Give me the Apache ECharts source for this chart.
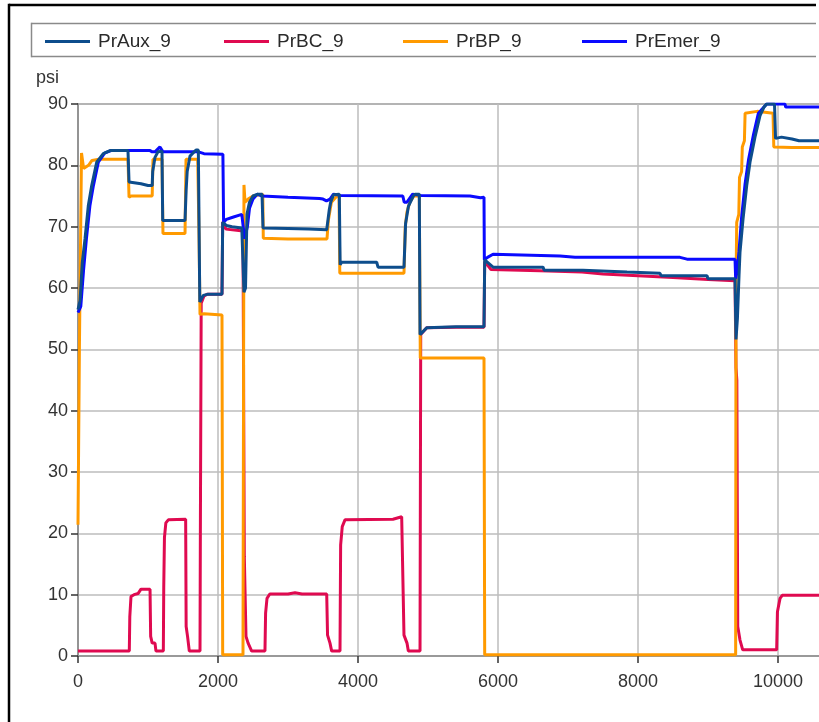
<!DOCTYPE html>
<html>
<head>
<meta charset="utf-8">
<script src="https://cdn.jsdelivr.net/npm/echarts@6/dist/echarts.min.js"></script>
<style>
html,body{margin:0;padding:0;background:#fff;overflow:hidden;}
#chart{width:819px;height:722px;}
</style>
</head>
<body>
<div id="chart"></div>
<script>
// ---- data (time, psi) ----
const seriesNames = ['PrAux_9', 'PrBC_9', 'PrBP_9', 'PrEmer_9'];

const prAux = [
  [0,56.5],[30,58],[60,64],[100,68],[147,73.4],[196,76.7],[267,80.5],[361,81.9],[457,82.4],[714,82.4],
  [729,77.3],[757,77],[900,77],[1000,76.7],[1060,76.7],[1067,79],[1100,81.3],[1143,82.2],[1171,82.5],[1200,82.3],
  [1210,71],[1529,71],[1545,76],[1560,79],[1600,81.5],[1686,82.5],[1719,82.5],
  [1740,57.7],[1790,58.8],[1860,59],[2057,59],[2067,70.7],[2120,70.2],[2200,70],[2340,69.8],[2357,69.6],
  [2371,59.3],[2393,60],[2414,72],[2450,74],[2500,75],[2570,75.3],[2629,75.3],[2643,69.8],[3000,69.7],[3300,69.6],[3553,69.5],
  [3570,71],[3590,72.8],[3610,74],[3650,75.2],[3733,75.3],[3745,63.8],[3767,64.2],[4267,64.2],[4286,63.4],[4657,63.4],
  [4680,70.5],[4720,73.3],[4786,74.9],[4814,75.3],[4876,75.3],[4886,52.4],[4981,53.5],[5400,53.7],[5800,53.7],
  [5810,64.6],[5929,63.4],[6643,63.4],[6660,62.9],[7214,62.9],[7230,62.6],[7843,62.6],[7860,62.4],[8314,62.4],[8330,62],[8986,62],[9000,61.5],[9386,61.5],
  [9400,51.6],[9420,55],[9443,62],[9457,65.8],[9500,71.2],[9553,76.7],[9600,80.5],[9671,84.6],[9743,88.1],[9800,89.5],[9838,90],[9950,90],
  [9965,84.4],[10050,84.6],[10200,84.3],[10300,84],[11500,84]
];

const prBC = [
  [0,0.8],[733,0.8],[740,6.4],[757,9.7],[800,10],[860,10.2],[900,10.9],[1029,10.9],[1038,3.2],[1060,2.1],[1100,2.1],[1114,0.8],[1219,0.8],
  [1225,11.3],[1235,19.3],[1255,21.7],[1290,22.2],[1538,22.3],[1545,4.8],[1565,3.2],[1590,0.8],[1743,0.8],
  [1748,20],[1760,57.5],[1800,58.7],[1850,59],[2057,59],[2067,70.8],[2114,69.6],[2357,69.3],
  [2376,16.2],[2400,3.2],[2430,2.1],[2481,0.8],[2671,0.8],[2680,7],[2700,9.4],[2740,10.1],[3000,10.1],[3100,10.3],[3200,10.1],[3553,10.1],
  [3565,3.4],[3600,2.1],[3624,0.8],[3743,0.8],[3752,18.1],[3775,21.1],[3814,22.2],[4500,22.3],[4624,22.7],[4648,22.5],
  [4657,3.4],[4700,2.1],[4719,0.8],[4886,0.8],[4896,52.4],[4981,53.5],[5400,53.6],[5800,53.6],
  [5810,64.3],[5900,63],[6600,62.8],[7200,62.6],[7500,62.3],[8000,62],[8500,61.7],[9000,61.4],[9386,61.2],
  [9400,47],[9412,45],[9425,4.8],[9457,2.6],[9496,1],[9981,1],[9992,7.2],[10029,9.4],[10060,9.9],[11500,9.9]
];

const prBP = [
  [0,21.4],[20,50],[50,82],[67,82],[80,79.5],[150,80],[200,80.8],[300,81],[714,81],
  [729,74.8],[760,75],[1060,75],[1071,81],[1200,81],[1214,68.9],[1529,68.9],[1543,81],[1710,81],
  [1729,68.5],[1743,55.7],[1800,55.8],[2057,55.6],[2067,0.2],[2357,0.2],[2371,76.8],[2386,74],[2430,74.5],[2500,75],[2640,75.3],
  [2647,68.1],[3000,68],[3557,68],[3576,71],[3620,74],[3700,75],[3729,75],
  [3740,62.4],[4657,62.4],[4675,70],[4700,72.4],[4740,74],[4800,75],[4876,75],
  [4890,48.6],[5800,48.6],[5810,0.2],[9395,0.2],
  [9400,60],[9410,70.7],[9440,72],[9450,78],[9480,79],[9490,83],[9520,84],[9530,88.5],[9700,88.8],[9929,88.5],
  [9940,83],[10200,82.9],[11500,82.9]
];

const prEmer = [
  [0,56],[40,57],[80,63],[120,68],[170,73.4],[220,76.7],[290,80.5],[380,82],[470,82.4],[1029,82.4],[1060,82.2],[1100,82.2],
  [1171,83],[1214,82.2],[1540,82.2],[1720,82.2],[1800,81.9],[2070,81.8],
  [2080,70.7],[2120,71.2],[2200,71.5],[2340,72],[2357,71.8],[2380,68],[2400,67.7],[2420,70],[2450,73],[2500,74.5],[2560,75.3],[2629,75],
  [3000,74.8],[3450,74.6],[3500,74.5],[3550,74.2],[3600,74.5],[3650,75.3],[3750,75.1],[4640,75],[4660,74],[4700,74],
  [4780,75.3],[4900,75.1],[5600,75],[5750,74.7],[5800,74.8],
  [5805,64.6],[5850,65],[5929,65.5],[6886,65.2],[7100,65],[8600,65],[8700,64.7],[9386,64.7],
  [9395,61.5],[9420,63],[9443,66],[9480,71.5],[9530,77],[9580,81],[9650,85],[9720,88.5],[9838,90],[10100,90],[10110,89.5],[11500,89.5]
];

// ---- style ----
const colors = {
  'PrAux_9': '#0d4d8c',
  'PrBC_9': '#df0a50',
  'PrBP_9': '#ff9a00',
  'PrEmer_9': '#0a0aff'
};
const legendLeft = [40, 219, 398, 577];
const FONT = '"Liberation Sans", Arial, sans-serif';

const dataByName = {
  'PrAux_9': prAux, 'PrBC_9': prBC, 'PrBP_9': prBP, 'PrEmer_9': prEmer
};
const zOrder = { 'PrBC_9': 2, 'PrBP_9': 3, 'PrEmer_9': 4, 'PrAux_9': 5 };

function seg(x1, y1, x2, y2, color, w, z) {
  return { type: 'line', silent: true, z: z,
    shape: { x1: x1, y1: y1, x2: x2, y2: y2 },
    style: { stroke: color, lineWidth: w } };
}

const chart = echarts.init(document.getElementById('chart'), null, { renderer: 'canvas' });

const option = {
  backgroundColor: '#ffffff',
  animation: false,
  graphic: { elements: [
    seg(9, 5, 816, 5, '#000', 2.5, 100),
    seg(9, 3.75, 9, 722, '#000', 2.5, 100),
    seg(31.5, 23.5, 816, 23.5, '#8a8a8a', 1.5, 0),
    seg(31.5, 56.5, 816, 56.5, '#8a8a8a', 1.5, 0),
    seg(31.5, 22.75, 31.5, 57.25, '#8a8a8a', 1.5, 0)
  ] },
  legend: seriesNames.map((n, i) => ({
    data: [{ name: n, icon: 'rect' }],
    left: legendLeft[i],
    top: 27,
    itemWidth: 45,
    itemHeight: 3,
    selectedMode: false,
    textStyle: { fontFamily: FONT, fontSize: 19, color: '#2a2a2a', padding: [0, 0, 0, 3] }
  })),
  grid: {
    left: 78, top: 104, width: 840, height: 552,
    outerBoundsMode: 'none',
    containLabel: false,
    show: true, borderColor: '#9a9a9a', borderWidth: 2, backgroundColor: 'transparent'
  },
  xAxis: {
    type: 'value', min: 0, max: 12000, interval: 2000,
    axisLine: { show: true, lineStyle: { color: '#999', width: 2 } },
    axisTick: { show: true, length: 7, lineStyle: { color: '#333', width: 1.5 } },
    axisLabel: { fontFamily: FONT, fontSize: 18, color: '#333', margin: 17, showMaxLabel: false,
      formatter: v => String(v) },
    splitLine: { show: true, lineStyle: { color: '#bcbcbc', width: 1.5 } }
  },
  yAxis: {
    type: 'value', min: 0, max: 90, interval: 10,
    name: 'psi', nameLocation: 'end', nameGap: 17,
    nameTextStyle: { fontFamily: FONT, fontSize: 18, color: '#333', align: 'right', padding: [0, 19, 0, 0] },
    axisLine: { show: true, lineStyle: { color: '#8a8a8a', width: 1.5 } },
    axisTick: { show: true, length: 7, lineStyle: { color: '#333', width: 1.5 } },
    axisLabel: { fontFamily: FONT, fontSize: 18, color: '#333', margin: 10, formatter: v => String(v) },
    splitLine: { show: true, lineStyle: { color: '#bcbcbc', width: 1.5 } }
  },
  series: seriesNames.map(n => ({
    name: n,
    type: 'line',
    data: dataByName[n],
    symbol: 'none',
    showSymbol: false,
    z: zOrder[n],
    color: colors[n],
    lineStyle: { color: colors[n], width: 3 },
    emphasis: { disabled: true }
  }))
};
chart.setOption(option);
</script>
</body>
</html>
